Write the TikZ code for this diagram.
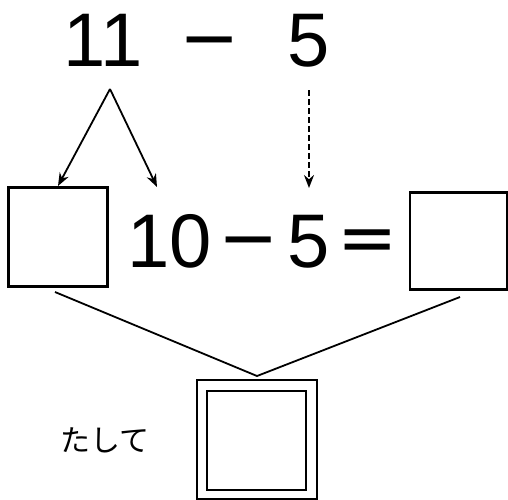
\documentclass[tikz,border=0pt]{standalone}
\usepackage{fontspec}
\setmainfont{Liberation Sans}
\newfontfamily\signfont{DejaVu Sans}
\newfontfamily\jpfont{Noto Sans CJK JP}
\usetikzlibrary{arrows.meta}
\begin{document}
\begin{tikzpicture}[x=1pt,y=-1pt,
  num/.style={font=\fontsize{76}{76}\selectfont, inner sep=0pt, anchor=base},
  sign/.style={font=\signfont\fontsize{72}{72}\selectfont, inner sep=0pt, anchor=base},
  ansbox/.style={draw, line width=2.2pt, minimum width=#1, minimum height=#1, inner sep=0pt},
  conn/.style={line width=1.8pt},
  arr/.style={line width=1.8pt, -{Stealth[length=13pt,width=10pt]}}]
\useasboundingbox (0,0) rectangle (508,499);
% top expression
\node[num] (t11) at (103,66) {11};
\node[sign] (tminus) at (210,62) {−};
\node[num] (t5) at (309,66) {5};
% arrows
\coordinate (apex) at (110,89);
\coordinate (ltip) at (58,186);
\coordinate (rtip) at (157,187);
\coordinate (dtop) at (309,90);
\coordinate (dtip) at (309,188);
\draw[arr] (apex) -- (ltip);
\draw[arr] (apex) -- (rtip);
\draw[arr, dash pattern=on 6pt off 3pt] (dtop) -- (dtip);
% second row
\node[ansbox=99pt] (lbox) at (58,237) {};
\node[num] (b10) at (170,267) {10};
\node[sign] (bminus) at (249,262) {−};
\node[num] (b5) at (309,267) {5};
\node[sign] (beq) at (368,262) {=};
\node[ansbox=97pt] (rbox) at (458.5,241) {};
% connecting lines
\coordinate (vtip) at (257,376);
\coordinate (lstart) at (55,292);
\coordinate (rstart) at (460,297);
\draw[conn] (lstart) -- (vtip) -- (rstart);
% result double box
\node[draw, line width=1.8pt, minimum width=120pt, minimum height=119pt, inner sep=0pt] (obox) at (257,439.5) {};
\node[ansbox=99pt] (ibox) at (256.5,440.5) {};
\node[font=\jpfont\fontsize{30}{30}\selectfont, inner sep=0pt] (tashite) at (105,440) {たして};
\end{tikzpicture}
\end{document}
